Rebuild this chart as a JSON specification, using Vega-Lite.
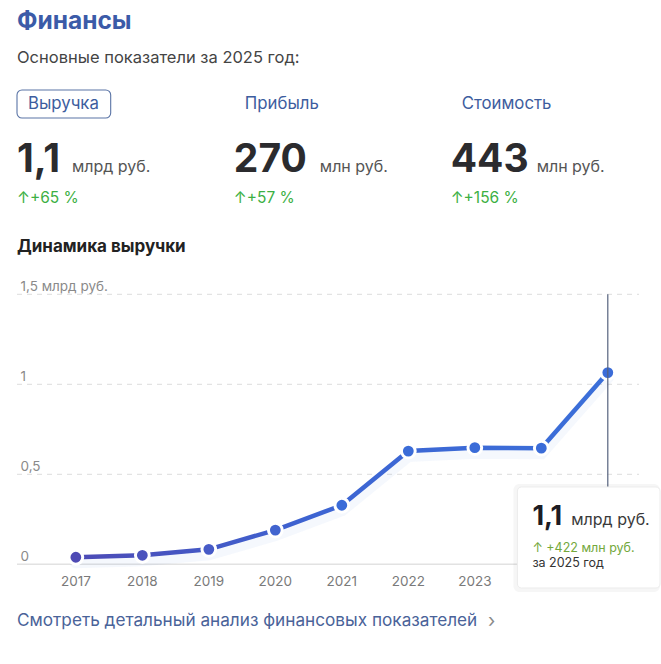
{
  "$schema": "https://vega.github.io/schema/vega-lite/v6.json",
  "width": 661,
  "height": 664,
  "autosize": {"type": "fit", "contains": "padding"},
  "padding": {"left": 16, "right": 0, "top": 0, "bottom": 0},
  "background": "white",
  "config": {"view": {"stroke": null}, "font": "Inter", "text": {"font": "Inter"}},
  "datasets": {
    "revenue": [
      {"year": 2017, "value": 0.039},
      {"year": 2018, "value": 0.05},
      {"year": 2019, "value": 0.083},
      {"year": 2020, "value": 0.19},
      {"year": 2021, "value": 0.328},
      {"year": 2022, "value": 0.629},
      {"year": 2023, "value": 0.648},
      {"year": 2024, "value": 0.645},
      {"year": 2025, "value": 1.065}
    ],
    "grid": [{"v": 0}, {"v": 0.5}, {"v": 1}, {"v": 1.5}],
    "kpi": [
      {"metric": "Выручка", "value": "1,1", "unit": "млрд руб.", "change": "↑+65 %", "selected": true},
      {"metric": "Прибыль", "value": "270", "unit": "млн руб.", "change": "↑+57 %", "selected": false},
      {"metric": "Стоимость", "value": "443", "unit": "млн руб.", "change": "↑+156 %", "selected": false}
    ],
    "tip": [
      {"year": 2025, "value": "1,1", "unit": "млрд руб.", "delta": "↑  +422 млн руб.", "period": "за 2025 год"}
    ],
    "texts": [
      {"key": "title", "text": "Финансы"},
      {"key": "subtitle", "text": "Основные показатели за 2025 год:"},
      {"key": "section", "text": "Динамика выручки"},
      {"key": "link", "text": "Смотреть детальный анализ финансовых показателей"},
      {"key": "chevron", "text": "›"}
    ]
  },
  "layer": [
    {
      "layer": [
        {
          "data": {"name": "grid"},
          "transform": [{"filter": "datum.v > 0"}],
          "mark": {"type": "rule", "color": "#dcdcdc", "strokeWidth": 1, "strokeDash": [5, 5]},
          "encoding": {
            "x": {"datum": 2016.115, "type": "quantitative", "scale": {"domain": [2016.115, 2025.785], "nice": false, "zero": false}, "axis": null},
            "x2": {"datum": 2025.47},
            "y": {
              "field": "v", "type": "quantitative",
              "scale": {"domain": [-0.554, 3.135], "nice": false, "zero": false},
              "axis": {
                "orient": "left", "title": null, "domain": false, "ticks": false, "tickSize": 0, "grid": false,
                "labelAlign": "left", "labelBaseline": "alphabetic", "labelPadding": -3, "labelOffset": -4,
                "labelFontSize": 13.5, "labelColor": "#8a8a8a", "labelFont": "Inter", "labelFlush": false, "labelOverlap": false,
                "values": [0, 0.5, 1, 1.5],
                "labelExpr": "datum.value === 1.5 ? '1,5 млрд руб.' : replace('' + datum.value, '.', ',')"
              }
            }
          }
        },
        {
          "data": {"name": "grid"},
          "transform": [{"filter": "datum.v === 0"}],
          "mark": {"type": "rule", "color": "#e2e2e2", "strokeWidth": 1.5},
          "encoding": {
            "x": {"datum": 2016.115, "type": "quantitative"},
            "x2": {"datum": 2025.47},
            "y": {"field": "v", "type": "quantitative"}
          }
        },
        {
          "data": {"name": "revenue"},
          "mark": {"type": "line", "strokeWidth": 12, "opacity": 0.05, "color": "#3b6fd9", "strokeCap": "round", "yOffset": 5},
          "encoding": {
            "x": {"field": "year", "type": "quantitative"},
            "y": {"field": "value", "type": "quantitative"}
          }
        },
        {
          "data": {"name": "revenue"},
          "mark": {
            "type": "line", "strokeWidth": 4.5,
            "color": {"x1": 0, "y1": 0, "x2": 1, "y2": 0, "gradient": "linear", "stops": [{"offset": 0, "color": "#4d4bb6"}, {"offset": 0.45, "color": "#3d64d2"}, {"offset": 1, "color": "#3b6fd9"}]}
          },
          "encoding": {
            "x": {"field": "year", "type": "quantitative"},
            "y": {"field": "value", "type": "quantitative"}
          }
        },
        {
          "data": {"name": "revenue"},
          "mark": {"type": "point", "filled": true, "size": 190, "stroke": "white", "strokeWidth": 3, "opacity": 1, "strokeOpacity": 1},
          "encoding": {
            "x": {"field": "year", "type": "quantitative"},
            "y": {"field": "value", "type": "quantitative"},
            "fill": {"field": "year", "type": "quantitative", "scale": {"domain": [2017, 2021], "range": ["#4e4ab4", "#3b6cd8"], "clamp": true}, "legend": null}
          }
        },
        {
          "data": {"name": "revenue"},
          "mark": {"type": "text", "fontSize": 13.5, "color": "#7a7a7a", "baseline": "middle", "align": "center"},
          "encoding": {
            "x": {"field": "year", "type": "quantitative"},
            "y": {"datum": -0.0983, "type": "quantitative"},
            "text": {"field": "year", "type": "nominal"}
          }
        },
        {
          "data": {"name": "tip"},
          "mark": {"type": "rule", "color": "#55627d", "strokeWidth": 1.2},
          "encoding": {
            "x": {"field": "year", "type": "quantitative"},
            "y": {"datum": 1.5, "type": "quantitative"},
            "y2": {"datum": 0.43}
          }
        },
        {
          "data": {"name": "tip"},
          "mark": {"type": "rect", "color": "#000000", "opacity": 0.035, "cornerRadius": 6},
          "encoding": {
            "x": {"datum": 2023.58, "type": "quantitative"},
            "x2": {"datum": 2025.785},
            "y": {"datum": 0.4461, "type": "quantitative"},
            "y2": {"datum": -0.1539}
          }
        },
        {
          "data": {"name": "tip"},
          "mark": {"type": "rect", "color": "white", "stroke": "#ececec", "strokeWidth": 1, "cornerRadius": 4},
          "encoding": {
            "x": {"datum": 2023.641, "type": "quantitative"},
            "x2": {"datum": 2025.785},
            "y": {"datum": 0.4294, "type": "quantitative"},
            "y2": {"datum": -0.1317}
          }
        },
        {
          "data": {"name": "tip"},
          "mark": {"type": "text", "fontSize": 27, "fontWeight": "bold", "color": "#1c1c24", "align": "left", "baseline": "alphabetic"},
          "encoding": {
            "x": {"datum": 2023.866, "type": "quantitative"},
            "y": {"datum": 0.2183, "type": "quantitative"},
            "text": {"field": "value", "type": "nominal"}
          }
        },
        {
          "data": {"name": "tip"},
          "mark": {"type": "text", "fontSize": 16, "color": "#3a3a3a", "align": "left", "baseline": "alphabetic"},
          "encoding": {
            "x": {"datum": 2024.451, "type": "quantitative"},
            "y": {"datum": 0.2183, "type": "quantitative"},
            "text": {"field": "unit", "type": "nominal"}
          }
        },
        {
          "data": {"name": "tip"},
          "mark": {"type": "text", "fontSize": 12.5, "color": "#74a83c", "align": "left", "baseline": "middle"},
          "encoding": {
            "x": {"datum": 2023.866, "type": "quantitative"},
            "y": {"datum": 0.0906, "type": "quantitative"},
            "text": {"field": "delta", "type": "nominal"}
          }
        },
        {
          "data": {"name": "tip"},
          "mark": {"type": "text", "fontSize": 12.5, "color": "#333333", "align": "left", "baseline": "middle"},
          "encoding": {
            "x": {"datum": 2023.866, "type": "quantitative"},
            "y": {"datum": 0.0072, "type": "quantitative"},
            "text": {"field": "period", "type": "nominal"}
          }
        },
        {
          "data": {"name": "texts"},
          "transform": [{"filter": "datum.key === 'title'"}],
          "mark": {"type": "text", "fontSize": 24.5, "fontWeight": "bold", "color": "#3b5ba8", "align": "left", "baseline": "alphabetic"},
          "encoding": {
            "x": {"datum": 2016.115, "type": "quantitative"},
            "y": {"datum": 2.9722, "type": "quantitative"},
            "text": {"field": "text", "type": "nominal"}
          }
        },
        {
          "data": {"name": "texts"},
          "transform": [{"filter": "datum.key === 'subtitle'"}],
          "mark": {"type": "text", "fontSize": 16.5, "color": "#444444", "align": "left", "baseline": "alphabetic"},
          "encoding": {
            "x": {"datum": 2016.115, "type": "quantitative"},
            "y": {"datum": 2.7833, "type": "quantitative"},
            "text": {"field": "text", "type": "nominal"}
          }
        },
        {
          "data": {"name": "texts"},
          "transform": [{"filter": "datum.key === 'section'"}],
          "mark": {"type": "text", "fontSize": 17, "fontWeight": "bold", "color": "#222222", "align": "left", "baseline": "alphabetic"},
          "encoding": {
            "x": {"datum": 2016.115, "type": "quantitative"},
            "y": {"datum": 1.735, "type": "quantitative"},
            "text": {"field": "text", "type": "nominal"}
          }
        },
        {
          "data": {"name": "texts"},
          "transform": [{"filter": "datum.key === 'link'"}],
          "mark": {"type": "text", "fontSize": 17.2, "color": "#4a6399", "align": "left", "baseline": "middle"},
          "encoding": {
            "x": {"datum": 2016.115, "type": "quantitative"},
            "y": {"datum": -0.315, "type": "quantitative"},
            "text": {"field": "text", "type": "nominal"}
          }
        },
        {
          "data": {"name": "texts"},
          "transform": [{"filter": "datum.key === 'chevron'"}],
          "mark": {"type": "text", "fontSize": 19, "color": "#8a8a8a", "align": "left", "baseline": "middle"},
          "encoding": {
            "x": {"datum": 2023.2, "type": "quantitative"},
            "y": {"datum": -0.315, "type": "quantitative"},
            "text": {"field": "text", "type": "nominal"}
          }
        },
        {
          "data": {"name": "kpi"},
          "transform": [{"filter": "datum.selected"}],
          "mark": {"type": "rect", "fill": "white", "stroke": "#5a74a6", "strokeWidth": 1.1, "cornerRadius": 5},
          "encoding": {
            "x": {"datum": 2016.115, "type": "quantitative"},
            "x2": {"datum": 2017.524},
            "y": {"datum": 2.635, "type": "quantitative"},
            "y2": {"datum": 2.4794}
          }
        }
      ]
    },
    {
      "data": {"name": "kpi"},
      "encoding": {
        "x": {
          "field": "metric", "type": "nominal",
          "scale": {"type": "point", "domain": ["Выручка", "Прибыль", "Стоимость"], "padding": 0.4828, "align": 0},
          "axis": null
        }
      },
      "layer": [
        {
          "mark": {"type": "text", "fontSize": 16.8, "color": "#3d5d9e", "align": "left", "baseline": "middle", "dx": 11},
          "encoding": {
            "y": {"datum": 2.5572, "type": "quantitative"},
            "text": {"field": "metric", "type": "nominal"}
          }
        },
        {
          "mark": {"type": "text", "fontSize": 39, "fontWeight": "bold", "color": "#2b2b2e", "align": "left", "baseline": "alphabetic"},
          "encoding": {
            "y": {"datum": 2.1811, "type": "quantitative"},
            "text": {"field": "value", "type": "nominal"}
          }
        },
        {
          "mark": {
            "type": "text", "fontSize": 16, "color": "#555555", "align": "left", "baseline": "alphabetic",
            "dx": {"expr": "11 + 17*(length(split(datum.value,'1'))-1) + 10*(length(split(datum.value,','))-1) + 25*(length(datum.value) - (length(split(datum.value,'1'))-1) - (length(split(datum.value,','))-1))"}
          },
          "encoding": {
            "y": {"datum": 2.1811, "type": "quantitative"},
            "text": {"field": "unit", "type": "nominal"}
          }
        },
        {
          "mark": {"type": "text", "fontSize": 15.5, "color": "#3cb043", "align": "left", "baseline": "middle"},
          "encoding": {
            "y": {"datum": 2.035, "type": "quantitative"},
            "text": {"field": "change", "type": "nominal"}
          }
        }
      ]
    }
  ],
  "resolve": {"scale": {"x": "independent"}, "axis": {"x": "independent"}}
}
